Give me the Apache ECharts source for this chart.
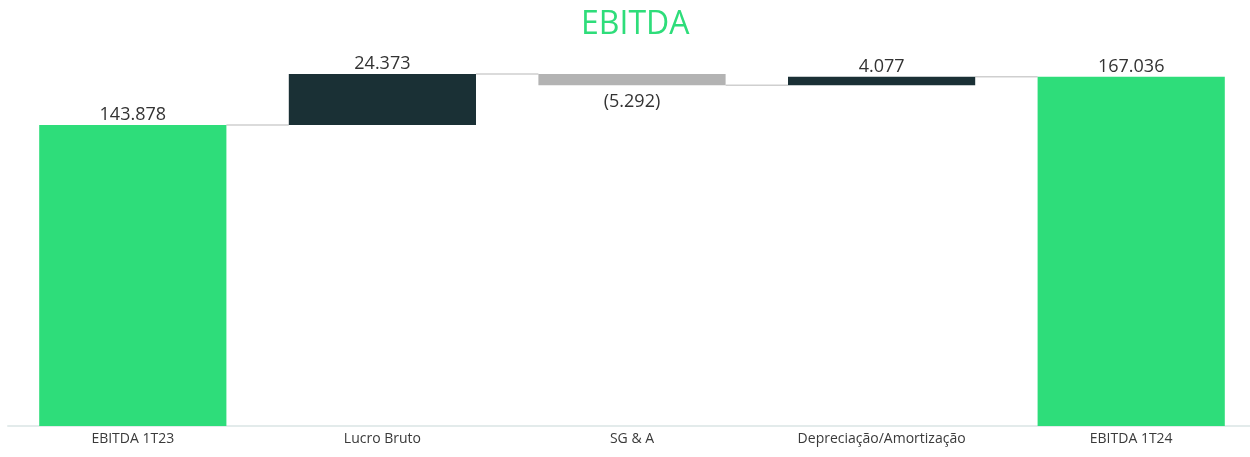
<!DOCTYPE html>
<html>
<head>
<meta charset="utf-8">
<script src="https://cdn.jsdelivr.net/npm/echarts@6/dist/echarts.min.js"></script>
<style>
  html, body { margin: 0; padding: 0; background: #fff; }
  #chart { width: 1250px; height: 457px; }
</style>
</head>
<body>
<div id="chart"></div>
<script>
// values in R$ thousands
const categories = ['EBITDA 1T23', 'Lucro Bruto', 'SG & A', 'Depreciação/Amortização', 'EBITDA 1T24'];
const deltas = [143878, 24373, -5292, 4077, 167036];
const kinds = ['total', 'up', 'down', 'up', 'total'];

const GREEN = '#2edd7a';
const DARK = '#1a3035';
const GREY = '#b3b3b3';

// running totals -> invisible base + visible height
const base = [];
const shown = [];
const levels = [];
let run = 0;
deltas.forEach((d, i) => {
  if (kinds[i] === 'total') {
    base.push(0);
    shown.push(d);
    run = d;
  } else if (d >= 0) {
    base.push(run);
    shown.push(d);
    run += d;
  } else {
    base.push(run + d);
    shown.push(-d);
    run += d;
  }
  levels.push(run);
});

function fmt(v) {
  const s = String(Math.abs(v)).replace(/\B(?=(\d{3})+(?!\d))/g, '.');
  return v < 0 ? '(' + s + ')' : s;
}

const colorOf = i => kinds[i] === 'total' ? GREEN : (kinds[i] === 'up' ? DARK : GREY);

const chart = echarts.init(document.getElementById('chart'), null, { renderer: 'canvas' });
chart.setOption({
  animation: false,
  textStyle: { fontFamily: 'Open Sans' },
  title: {
    text: 'EBITDA',
    left: 576,
    top: 4,
    textStyle: { color: GREEN, fontSize: 32, fontWeight: 'normal', fontFamily: 'Open Sans' }
  },
  grid: { left: 8, right: -6, top: 60, bottom: 31, containLabel: false, outerBoundsMode: 'none' },
  xAxis: {
    type: 'category',
    data: categories,
    axisTick: { show: false },
    axisLine: { lineStyle: { color: '#e3ebeb', width: 2 } },
    axisLabel: { color: '#3a3a3a', fontSize: 14, margin: 6, interval: 0 }
  },
  yAxis: {
    type: 'value',
    min: 0,
    max: 175000,
    show: false,
    splitLine: { show: false }
  },
  series: [
    {
      name: 'base',
      type: 'bar',
      stack: 'w',
      barWidth: '75%',
      itemStyle: { color: 'transparent' },
      silent: true,
      data: base
    },
    {
      name: 'valor',
      type: 'bar',
      stack: 'w',
      barWidth: '75%',
      data: shown.map((v, i) => ({
        value: v,
        itemStyle: { color: colorOf(i) },
        label: {
          show: true,
          position: kinds[i] === 'down' ? 'bottom' : 'top',
          distance: kinds[i] === 'down' ? 8 : 1,
          color: '#333333',
          fontSize: 18,
          formatter: () => fmt(deltas[i])
        }
      }))
    },
    {
      name: 'conectores',
      type: 'custom',
      silent: true,
      z: 1,
      data: levels.slice(0, -1).map((lv, i) => [i, lv]),
      renderItem: (params, api) => {
        const i = api.value(0);
        const lv = api.value(1);
        const a = api.coord([i, lv]);
        const b = api.coord([i + 1, lv]);
        const half = api.size([1, 0])[0] * 0.375;
        return {
          type: 'line',
          shape: { x1: a[0] + half, y1: a[1], x2: b[0] - half, y2: a[1] },
          style: { stroke: '#cfcfcf', lineWidth: 1.5 }
        };
      }
    }
  ]
});
</script>
</body>
</html>
